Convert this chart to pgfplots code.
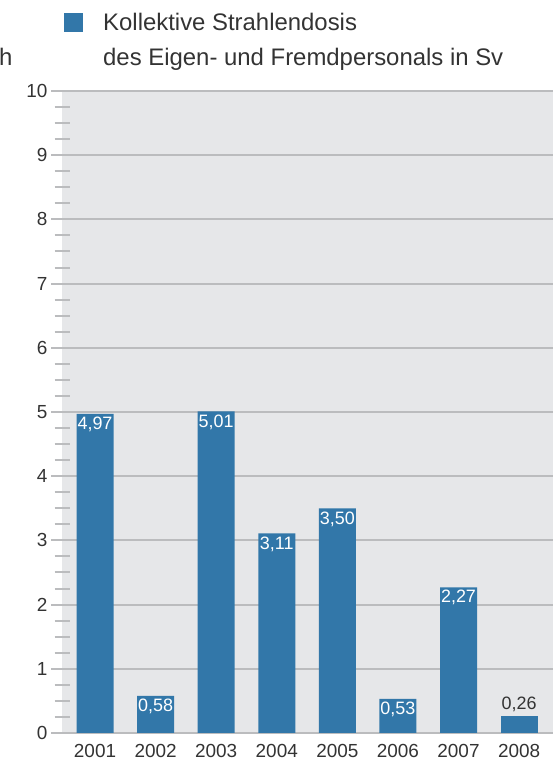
\documentclass[border=0pt]{standalone}
\usepackage{pgfplots}
\pgfplotsset{compat=1.18}
\usepackage{fontspec}
\setmainfont{Liberation Sans}
\definecolor{barblue}{HTML}{3277A9}
\definecolor{bggray}{HTML}{E6E7E9}
\definecolor{gridgray}{HTML}{BBBCBE}
\definecolor{txt}{HTML}{333333}
\begin{document}
\begin{tikzpicture}[x=1bp,y=1bp]
\path[use as bounding box] (0,0) rectangle (557,767);
\begin{axis}[
  at={(62bp,34bp)}, anchor=south west,
  scale only axis, width=491bp, height=642bp,
  xmin=-0.545, xmax=7.56, ymin=0, ymax=10,
  axis background/.style={fill=bggray},
  axis line style={draw=none},
  ytick={0,1,...,10}, minor y tick num=3,
  ymajorgrids, major grid style={gridgray, line width=2bp},
  tick align=center, ytick pos=left,
  major tick length=22bp, minor tick length=15bp,
  y tick style={gridgray, line width=2bp},
  every minor tick/.append style={gridgray, line width=2.2bp},
  xtick={0,...,7}, xticklabels={2001,2002,2003,2004,2005,2006,2007,2008},
  x tick style={draw=none},
  ticklabel style={font=\fontsize{19}{21}\selectfont, text=txt},
  xticklabel style={yshift=14bp},
  /pgf/number format/assume math mode=true,
  ybar, bar width=37bp,
  clip=false,
]
\addplot[fill=barblue, draw=none, bar shift=0pt, nodes near coords, point meta=explicit symbolic,
  nodes near coords style={anchor=north, text=white, font=\fontsize{18}{20}\selectfont, inner sep=3bp}]
  table[meta=lab] {
x y lab
0 4.97 4,97
1 0.58 0,58
2 5.01 5,01
3 3.11 3,11
4 3.50 3,50
5 0.53 0,53
6 2.27 2,27
};
\addplot[fill=barblue, draw=none, bar shift=0pt, nodes near coords, point meta=explicit symbolic,
  nodes near coords style={anchor=south, text=txt, font=\fontsize{18}{20}\selectfont, inner sep=4bp}]
  table[meta=lab] {
x y lab
7 0.26 0,26
};
\end{axis}
\fill[barblue] (64,735) rectangle (83,754);
\node[anchor=base west, inner sep=0, text=txt, font=\fontsize{24}{26}\selectfont] at (103,736) {Kollektive Strahlendosis};
\node[anchor=base west, inner sep=0, text=txt, font=\fontsize{24}{26}\selectfont] at (103,701) {des Eigen- und Fremdpersonals in Sv};
\node[anchor=base west, inner sep=0, text=txt, font=\fontsize{24}{26}\selectfont] at (-1,701) {h};
\end{tikzpicture}
\end{document}
